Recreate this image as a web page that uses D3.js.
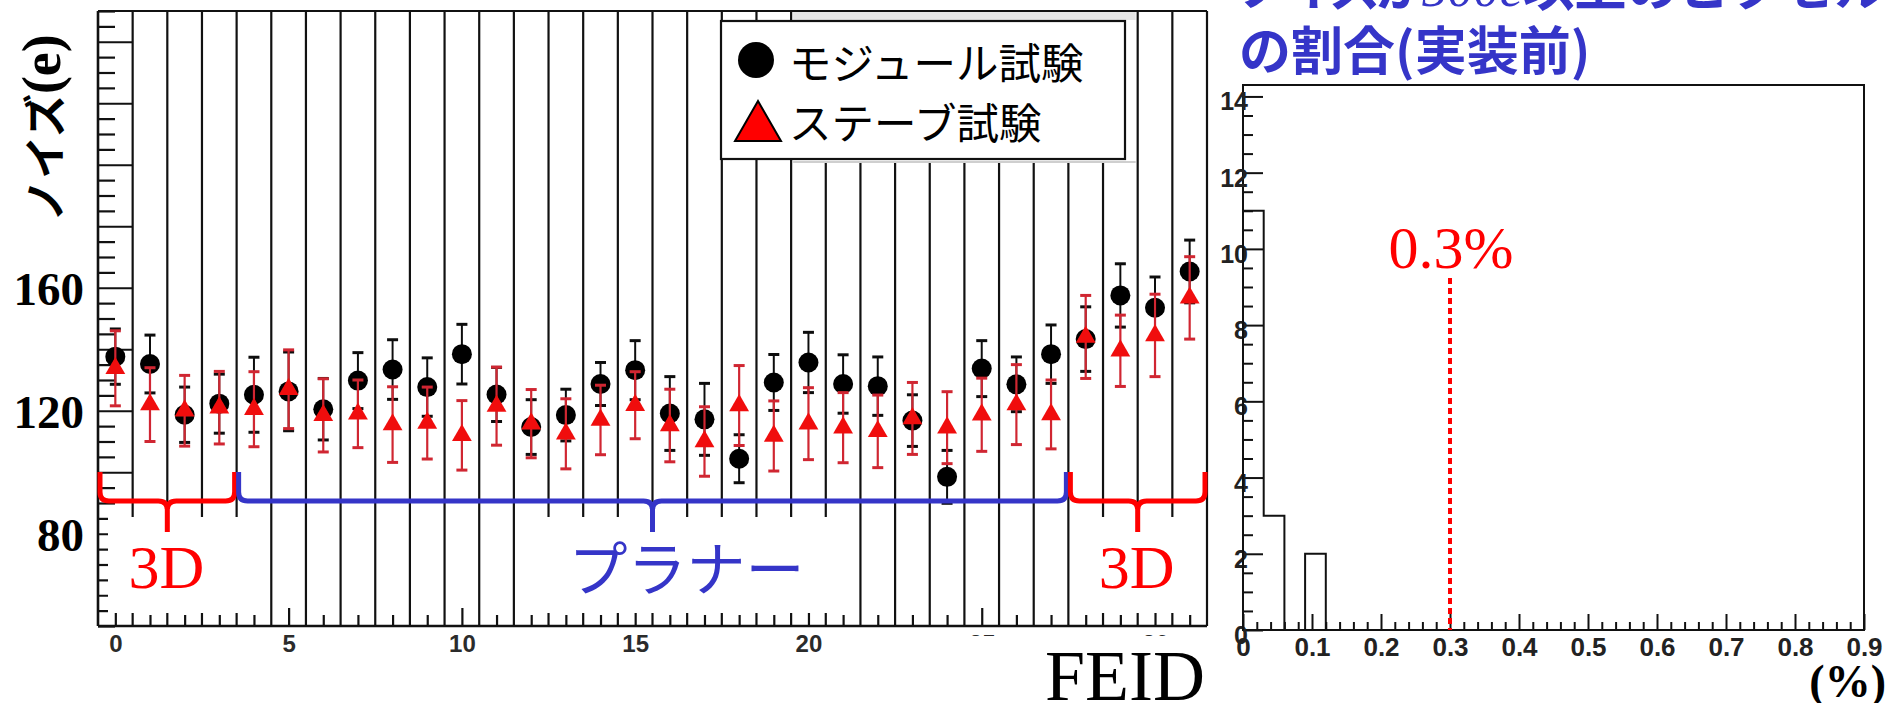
<!DOCTYPE html>
<html>
<head>
<meta charset="utf-8">
<script src="https://cdn.jsdelivr.net/npm/d3@7"></script>
<style>
  html, body { margin: 0; padding: 0; background: #fff; }
  svg { display: block; }
</style>
</head>
<body>
<svg id="chart" width="1887" height="703"></svg>
<script>
// ---- noise per front-end chip (electrons) ----
const feid = [0, 1, 2, 3, 4, 5, 6, 7, 8, 9, 10, 11, 12, 13, 14, 15,
              16, 17, 18, 19, 20, 21, 22, 23, 24, 25, 26, 27, 28, 29, 30, 31];
const moduleNoise = [137.6, 135.2, 118.7, 122.3, 125.2, 126.3, 120.5, 129.8, 133.4, 127.7, 138.4, 125.3,
                     114.7, 118.6, 128.7, 133.2, 119.1, 117.2, 104.4, 129.2, 135.7, 128.7, 128.0, 116.8,
                     98.5, 133.7, 128.6, 138.4, 143.3, 157.5, 153.5, 165.3];
const moduleErr   = [9.0, 9.4, 9.0, 9.6, 12.2, 12.8, 10.0, 9.1, 9.7, 9.5, 9.7, 8.8,
                     8.9, 8.4, 7.0, 9.6, 12.0, 11.7, 7.8, 9.1, 9.8, 9.5, 9.5, 8.4,
                     8.6, 9.1, 8.9, 9.5, 10.5, 10.3, 10.0, 10.2];
const staveNoise  = [133.8, 122.0, 120.0, 121.0, 120.5, 127.0, 118.5, 119.0, 115.5, 116.0, 112.0, 121.5,
                     115.8, 112.5, 117.0, 121.8, 115.2, 110.0, 121.7, 111.8, 115.8, 114.5, 113.3, 117.5,
                     114.5, 118.7, 122.0, 118.8, 144.0, 139.5, 144.5, 156.7];
const staveErr    = [12.2, 12.0, 11.5, 11.8, 12.2, 12.8, 11.9, 11.0, 12.3, 11.7, 11.3, 12.7,
                     11.1, 11.4, 11.3, 10.9, 11.8, 11.3, 13.0, 11.4, 11.7, 11.4, 11.8, 11.7,
                     11.7, 11.9, 13.0, 11.2, 13.5, 11.6, 13.4, 13.4];

// sensor types along the stave (first / last FEID of each group)
const sensorGroups = ["3D", "プラナー", "3D"];
const groupFirst   = [0, 4, 28];
const groupLast    = [3, 27, 31];

const legendLabels = ["モジュール試験", "ステーブ試験"];
const noiseTickLabels = [80, 120, 160];
const feidTickLabels  = [0, 5, 10, 15, 20, 25, 30];

// ---- fraction of noisy pixels per FE (histogram) ----
const fracBinLow   = [0.00, 0.03, 0.06, 0.09];
const fracBinCount = [11, 3, 0, 2];
const fracBinWidth = 0.03;
const fracTicks    = [0, 0.1, 0.2, 0.3, 0.4, 0.5, 0.6, 0.7, 0.8, 0.9];
const countTicks   = [0, 2, 4, 6, 8, 10, 12, 14];
const fracThreshold = 0.3;

const W = 1887, H = 703;
const RED = "#ff0000", BLUE = "#3535c8", INK = "#111";
const JP = "'Noto Sans CJK JP', 'Noto Sans', sans-serif";
const SERIF = "'Liberation Serif', 'DejaVu Serif', serif";
const SANS = "'Liberation Sans', Arial, sans-serif";

const svg = d3.select("#chart");
svg.append("rect").attr("width", W).attr("height", H).attr("fill", "#fff");

const defs = svg.append("defs");
defs.append("filter").attr("id", "soft")
  .append("feGaussianBlur").attr("stdDeviation", 0.6);

// ================= left panel: noise vs FEID =================
const x = d3.scaleLinear().domain([-0.5, 31.5]).range([98, 1207]);
const y = d3.scaleLinear().domain([50, 250]).range([626, 11]);

// bin separators
svg.append("g").selectAll("line")
  .data(d3.range(0, 31))
  .join("line")
  .attr("x1", k => x(k + 0.5)).attr("x2", k => x(k + 0.5))
  .attr("y1", y(250)).attr("y2", y(50))
  .attr("stroke", INK).attr("stroke-width", 2.2);

function styleTicks(g, w) {
  g.select(".domain").remove();
  g.selectAll(".tick line").attr("stroke", INK).attr("stroke-width", w);
}

// left axis: major and minor ticks
const majorNoise = d3.range(60, 250, 20);
const minorNoise = d3.range(50, 251, 5).filter(v => v % 20 !== 0);
svg.append("g").attr("transform", `translate(${x(-0.5)},0)`)
  .call(d3.axisRight(y).tickValues(majorNoise).tickSize(x(0.5) - x(-0.5)).tickSizeOuter(0).tickFormat(""))
  .call(g => styleTicks(g, 2.2));
svg.append("g").attr("transform", `translate(${x(-0.5)},0)`)
  .call(d3.axisRight(y).tickValues(minorNoise).tickSize(17).tickSizeOuter(0).tickFormat(""))
  .call(g => styleTicks(g, 2.2));

// bottom axis ticks
svg.append("g").attr("transform", `translate(0,${y(50)})`)
  .call(d3.axisTop(x).tickValues(feidTickLabels).tickSize(18).tickSizeOuter(0).tickFormat(""))
  .call(g => styleTicks(g, 2.2));
svg.append("g").attr("transform", `translate(0,${y(50)})`)
  .call(d3.axisTop(x).tickValues(feid.filter(v => v % 5 !== 0)).tickSize(11).tickSizeOuter(0).tickFormat(""))
  .call(g => styleTicks(g, 2.2));

// FEID tick labels
svg.append("g").attr("transform", `translate(0,${y(50)})`)
  .call(d3.axisBottom(x).tickValues(feidTickLabels).tickSize(0).tickSizeOuter(0))
  .call(g => {
    g.select(".domain").remove();
    g.selectAll("text").attr("y", 26).attr("dy", 0)
      .attr("font-family", SANS).attr("font-size", 24).attr("font-weight", "bold").attr("fill", "#2b2b2b");
  });

// ---- data ----
const pts = feid.map((f, i) => ({
  f, m: moduleNoise[i], me: moduleErr[i], s: staveNoise[i], se: staveErr[i]
}));
const dataLayer = svg.append("g").attr("filter", "url(#soft)");

function errorBars(sel, val, err, color, capW, stemW) {
  const g = sel.append("g");
  g.selectAll("line.stem").data(pts).join("line").attr("class", "stem")
    .attr("x1", d => x(d.f)).attr("x2", d => x(d.f))
    .attr("y1", d => y(d[val] + d[err])).attr("y2", d => y(d[val] - d[err]))
    .attr("stroke", color).attr("stroke-width", stemW);
  [1, -1].forEach(sign => {
    g.selectAll(`line.cap${sign}`).data(pts).join("line")
      .attr("class", `cap${sign}`)
      .attr("x1", d => x(d.f) - capW / 2).attr("x2", d => x(d.f) + capW / 2)
      .attr("y1", d => y(d[val] + sign * d[err]))
      .attr("y2", d => y(d[val] + sign * d[err]))
      .attr("stroke", color).attr("stroke-width", 3);
  });
}

errorBars(dataLayer, "m", "me", "#111", 11, 2);
dataLayer.append("g").selectAll("circle").data(pts).join("circle")
  .attr("cx", d => x(d.f)).attr("cy", d => y(d.m)).attr("r", 10).attr("fill", "#000");

errorBars(dataLayer, "s", "se", "#d02832", 11, 2.2);
const tri = d3.symbol().type(d3.symbolTriangle).size(170);
dataLayer.append("g").selectAll("path").data(pts).join("path")
  .attr("d", tri).attr("transform", d => `translate(${x(d.f)},${y(d.s)})`)
  .attr("fill", "#f01010");

// white panels behind the annotations
const annotY0 = 517, annotY1 = 613;
svg.append("rect").attr("x", 108).attr("y", annotY0).attr("width", 157).attr("height", annotY1 - annotY0).attr("fill", "#fff");
svg.append("rect").attr("x", 531).attr("y", annotY0).attr("width", 310).attr("height", annotY1 - annotY0).attr("fill", "#fff");
svg.append("rect").attr("x", 1078).attr("y", annotY0).attr("width", 127).attr("height", annotY1 - annotY0).attr("fill", "#fff");

// panel behind the legend
const lgPanel = { x0: x(19.5) + 2, x1: x(29.5) - 2, y0: 12, y1: 163 };
svg.append("rect").attr("x", lgPanel.x0).attr("y", lgPanel.y0)
  .attr("width", lgPanel.x1 - lgPanel.x0).attr("height", lgPanel.y1 - lgPanel.y0).attr("fill", "#fff");
svg.append("rect").attr("x", lgPanel.x0).attr("y", lgPanel.y0)
  .attr("width", lgPanel.x1 - lgPanel.x0).attr("height", 8).attr("fill", "#e6e6e6");
svg.append("line").attr("x1", lgPanel.x0).attr("x2", lgPanel.x1).attr("y1", lgPanel.y1 - 1).attr("y2", lgPanel.y1 - 1)
  .attr("stroke", "#cfcfcf").attr("stroke-width", 2);

// frame
svg.append("line").attr("x1", x(-0.5)).attr("x2", x(31.5)).attr("y1", y(250)).attr("y2", y(250)).attr("stroke", INK).attr("stroke-width", 2);
svg.append("line").attr("x1", x(-0.5)).attr("x2", x(31.5)).attr("y1", y(50)).attr("y2", y(50)).attr("stroke", INK).attr("stroke-width", 2.6);
svg.append("line").attr("x1", x(-0.5)).attr("x2", x(-0.5)).attr("y1", y(250)).attr("y2", y(50)).attr("stroke", INK).attr("stroke-width", 2.6);
svg.append("line").attr("x1", x(31.5)).attr("x2", x(31.5)).attr("y1", y(250)).attr("y2", y(50)).attr("stroke", INK).attr("stroke-width", 2.2);

// noise tick labels
svg.append("g").selectAll("text").data(noiseTickLabels).join("text")
  .attr("x", 84).attr("y", v => y(v) + 1)
  .attr("text-anchor", "end").attr("dominant-baseline", "central")
  .attr("font-family", SERIF).attr("font-weight", "bold").attr("font-size", 47).attr("fill", "#000")
  .text(v => v);

// y title
const yt = svg.append("text")
  .attr("transform", "translate(42,128) rotate(-90)")
  .attr("text-anchor", "middle").attr("dominant-baseline", "central")
  .attr("font-weight", "bold").attr("fill", "#000");
yt.append("tspan").attr("font-family", JP).attr("font-size", 43).text("ノイズ");
yt.append("tspan").attr("font-family", SERIF).attr("font-size", 54).text("(e)");

// sensor-type braces
function bracePath(x0, x1, yTop, yLine, yTip, r) {
  const xm = (x0 + x1) / 2;
  return `M${x0},${yTop} L${x0},${yLine - r} Q${x0},${yLine} ${x0 + r},${yLine} ` +
         `L${xm - r},${yLine} Q${xm},${yLine} ${xm},${yLine + r} L${xm},${yTip} ` +
         `M${xm},${yLine + r} Q${xm},${yLine} ${xm + r},${yLine} ` +
         `L${x1 - r},${yLine} Q${x1},${yLine} ${x1},${yLine - r} L${x1},${yTop}`;
}
const groups = sensorGroups.map((name, i) => ({
  name, x0: x(groupFirst[i] - 0.5) + 2, x1: x(groupLast[i] + 0.5) - 2,
  color: name === "3D" ? RED : BLUE
}));
svg.append("g").selectAll("path").data(groups).join("path")
  .attr("d", g => bracePath(g.x0, g.x1, 472, 501, 532, 9))
  .attr("fill", "none").attr("stroke", g => g.color).attr("stroke-width", 5);
svg.append("g").selectAll("text").data(groups).join("text")
  .attr("x", g => (g.x0 + g.x1) / 2 + (g.name === "3D" ? -1 : 34))
  .attr("y", g => g.name === "3D" ? 588 : 565)
  .attr("text-anchor", "middle")
  .attr("dominant-baseline", g => g.name === "3D" ? "alphabetic" : "central")
  .attr("font-family", g => g.name === "3D" ? SERIF : JP)
  .attr("font-size", g => g.name === "3D" ? 62 : 59)
  .attr("fill", g => g.color)
  .text(g => g.name);

// FEID title on its own white patch
svg.append("rect").attr("x", 962).attr("y", 636).attr("width", 268).attr("height", H - 636).attr("fill", "#fff");
svg.append("text").attr("x", 1045).attr("y", 700)
  .attr("font-family", SERIF).attr("font-size", 72).attr("fill", "#000").text("FEID");

// legend
const lg = svg.append("g");
lg.append("rect").attr("x", 721).attr("y", 21).attr("width", 404).attr("height", 138)
  .attr("fill", "#fff").attr("stroke", INK).attr("stroke-width", 2.2);
lg.append("circle").attr("cx", 756).attr("cy", 60).attr("r", 18).attr("fill", "#000");
lg.append("path").attr("d", "M758,101 L781,141 L735,141 Z").attr("fill", RED)
  .attr("stroke", "#000").attr("stroke-width", 2);
lg.selectAll("text").data(legendLabels).join("text")
  .attr("x", 789).attr("y", (d, i) => 60 + i * 60)
  .attr("dominant-baseline", "central")
  .attr("font-family", JP).attr("font-size", 42.5).attr("fill", "#000")
  .text(d => d);

// ================= right panel: noisy-pixel fraction =================
const xh = d3.scaleLinear().domain([0, 0.9]).range([1243, 1864]);
const yh = d3.scaleLinear().domain([0, 14.3]).range([630, 85]);

// title (two lines, the upper one runs off the top edge)
const title = svg.append("g").attr("font-family", JP).attr("font-weight", "bold").attr("fill", BLUE);
const line1 = title.append("text").attr("x", 1239).attr("y", 6).attr("font-size", 52);
line1.append("tspan").attr("letter-spacing", -6).text("ノイズが");
line1.append("tspan").attr("font-family", SERIF).attr("font-style", "italic").attr("font-weight", "normal").text("500e");
line1.append("tspan").text("以上のピクセル");
title.append("text").attr("x", 1239).attr("y", 70).attr("font-size", 52).text("の割合(実装前)");

// frame
svg.append("rect").attr("x", xh(0)).attr("y", yh(14.3)).attr("width", xh(0.9) - xh(0)).attr("height", yh(0) - yh(14.3))
  .attr("fill", "none").attr("stroke", INK).attr("stroke-width", 2);

// ticks
svg.append("g").attr("transform", `translate(${xh(0)},0)`)
  .call(d3.axisRight(yh).tickValues(countTicks).tickSize(20).tickSizeOuter(0).tickFormat(""))
  .call(g => styleTicks(g, 2));
svg.append("g").attr("transform", `translate(${xh(0)},0)`)
  .call(d3.axisRight(yh).tickValues(d3.range(0.5, 14.3, 0.5).filter(v => v % 2 !== 0)).tickSize(10).tickSizeOuter(0).tickFormat(""))
  .call(g => styleTicks(g, 2));
svg.append("g").attr("transform", `translate(0,${yh(0)})`)
  .call(d3.axisTop(xh).tickValues(fracTicks).tickSize(16).tickSizeOuter(0).tickFormat(""))
  .call(g => styleTicks(g, 2));
svg.append("g").attr("transform", `translate(0,${yh(0)})`)
  .call(d3.axisTop(xh).tickValues(d3.range(1, 45).filter(k => k % 5 !== 0).map(k => k * 0.02)).tickSize(8).tickSizeOuter(0).tickFormat(""))
  .call(g => styleTicks(g, 2));

// tick labels
svg.append("g").attr("transform", `translate(0,${yh(0)})`)
  .call(d3.axisBottom(xh).tickValues(fracTicks).tickSize(0).tickSizeOuter(0).tickFormat(d3.format("~g")))
  .call(g => {
    g.select(".domain").remove();
    g.selectAll("text").attr("y", 26).attr("dy", 0)
      .attr("font-family", SANS).attr("font-size", 26).attr("font-weight", "bold").attr("fill", "#222");
  });
svg.append("g").selectAll("text").data(countTicks).join("text")
  .attr("x", xh(0) + 5).attr("y", v => yh(v) + 5)
  .attr("text-anchor", "end").attr("dominant-baseline", "central")
  .attr("font-family", SANS).attr("font-size", 25).attr("font-weight", "bold").attr("fill", "#222")
  .text(v => v);

// histogram outline
const steps = [[0, 0]];
fracBinLow.forEach((lo, i) => {
  steps.push([lo, fracBinCount[i]], [lo + fracBinWidth, fracBinCount[i]]);
});
steps.push([fracBinLow[fracBinLow.length - 1] + fracBinWidth, 0], [0.9, 0]);
svg.append("path")
  .attr("d", d3.line().x(d => xh(d[0])).y(d => yh(d[1]))(steps))
  .attr("fill", "none").attr("stroke", INK).attr("stroke-width", 2);

// threshold
svg.append("line").attr("x1", xh(fracThreshold)).attr("x2", xh(fracThreshold))
  .attr("y1", 278).attr("y2", yh(0))
  .attr("stroke", RED).attr("stroke-width", 4).attr("stroke-dasharray", "6,4");
svg.append("text").attr("x", xh(fracThreshold) + 1).attr("y", 268).attr("text-anchor", "middle")
  .attr("font-family", SERIF).attr("font-size", 60).attr("fill", RED)
  .text(`${fracThreshold}%`);

// unit
svg.append("text").attr("x", 1886).attr("y", 697).attr("text-anchor", "end")
  .attr("font-family", SERIF).attr("font-weight", "bold").attr("font-size", 46).attr("fill", "#000")
  .text("(%)");
</script>
</body>
</html>
